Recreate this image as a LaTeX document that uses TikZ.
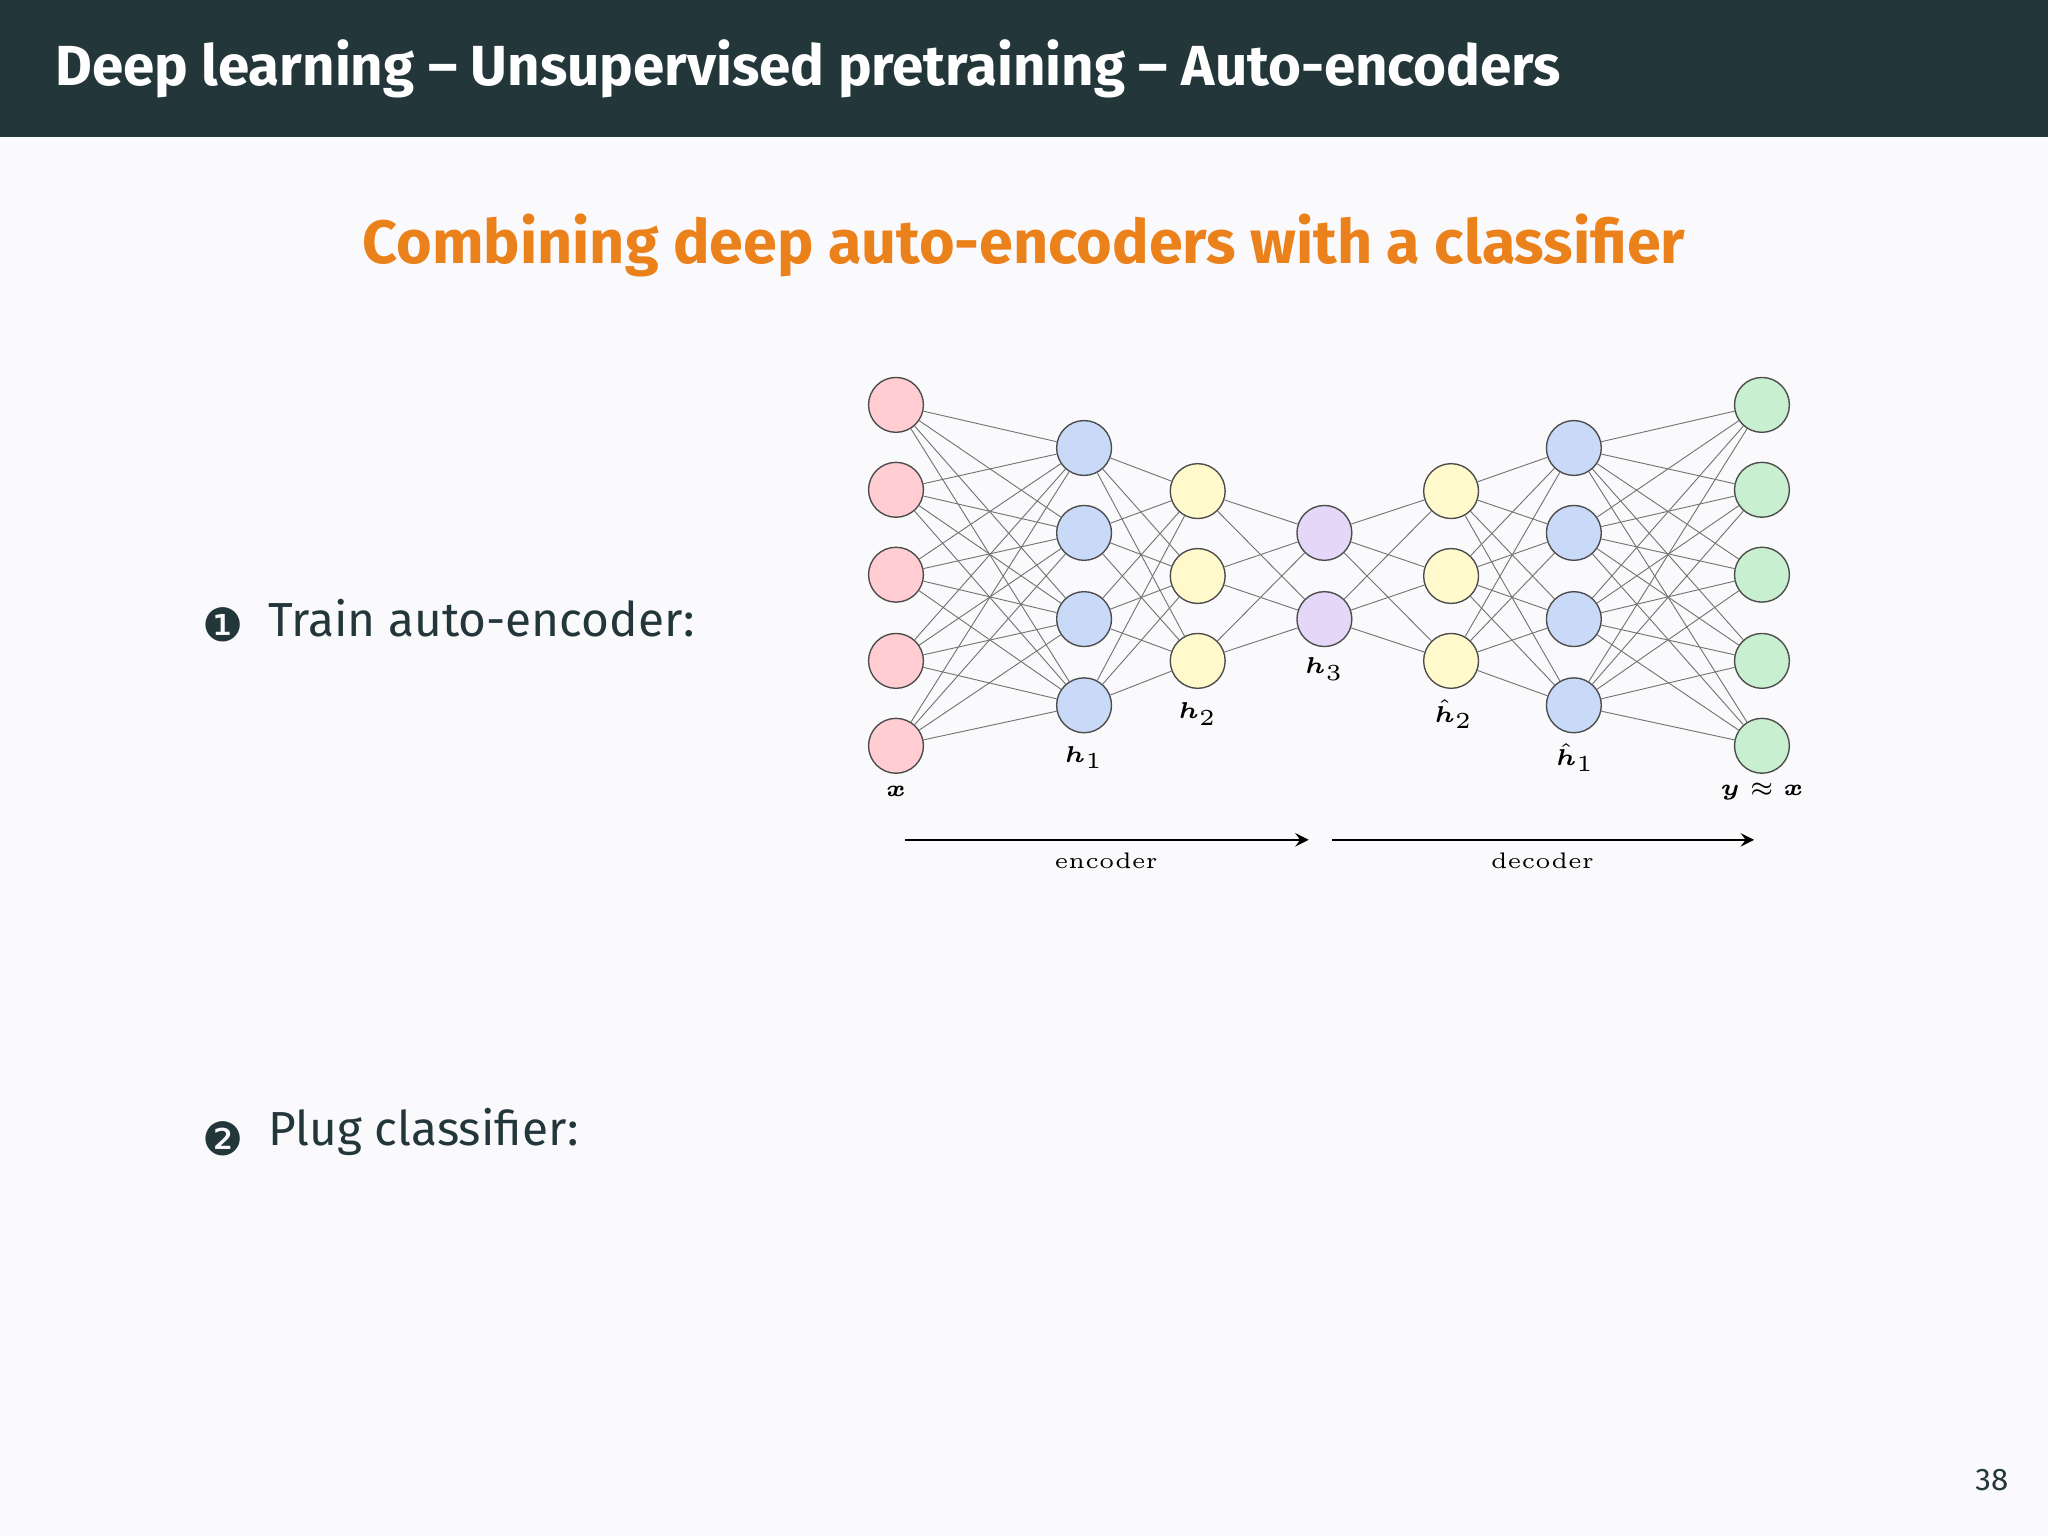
\documentclass[tikz,border=0pt]{standalone}
\usepackage{amsmath}
\usepackage{fontspec}
\setsansfont{Fira Sans}
\newfontfamily\dejavu{DejaVu Sans}
\definecolor{hdr}{HTML}{23373B}
\definecolor{bg}{HTML}{FAFAFC}
\definecolor{org}{HTML}{EB811B}
\definecolor{cred}{HTML}{FFCDD2}
\definecolor{cblue}{HTML}{C9DAF8}
\definecolor{cyel}{HTML}{FFF9CC}
\definecolor{cpur}{HTML}{E4D7F8}
\definecolor{cgrn}{HTML}{C8EFCF}
\tikzset{
  neuron/.style={circle,draw=black!70,line width=0.3pt,minimum size=0.42cm,inner sep=0pt},
  edge/.style={draw=black!55,line width=0.2pt},
  lbl/.style={font=\fontsize{4.9}{6}\selectfont,inner sep=0pt},
}
\begin{document}
\begin{tikzpicture}[x=0.01cm,y=-0.01cm]
\fill[bg] (0,0) rectangle (1568,1176);
\useasboundingbox (0,0) rectangle (1568,1176);
\fill[hdr] (0,0) rectangle (1568,105);
\node[anchor=west,text=white,font=\sffamily\bfseries\fontsize{12.3}{14}\selectfont] (title) at (30,53) {Deep learning -- Unsupervised pretraining -- Auto-encoders};
\node[text=org,font=\sffamily\bfseries\fontsize{13.3}{15}\selectfont] (sub) at (784,188) {Combining deep auto-encoders with a classifier};
\node[text=hdr,font=\dejavu\fontsize{10}{11}\selectfont] (b1) at (171,478) {❶};
\node[anchor=west,text=hdr,font=\sffamily\fontsize{10.4}{12}\selectfont] (t1) at (193,473) {Train auto-encoder:};
\node[text=hdr,font=\dejavu\fontsize{10}{11}\selectfont] (b2) at (171,872) {❷};
\node[anchor=west,text=hdr,font=\sffamily\fontsize{10.4}{12}\selectfont] (t2) at (193,867) {Plug classifier:};
\node[text=hdr,font=\sffamily\fontsize{6.8}{8}\selectfont] (pg) at (1525,1133) {38};
% layers
\foreach \y [count=\i] in {310,375,440,506,571} {\node[neuron,fill=cred] (x\i) at (686,\y) {};}
\foreach \y [count=\i] in {343,408,474,540} {\node[neuron,fill=cblue] (a\i) at (830,\y) {};}
\foreach \y [count=\i] in {376,441,506} {\node[neuron,fill=cyel] (b\i) at (917,\y) {};}
\foreach \y [count=\i] in {408,474} {\node[neuron,fill=cpur] (c\i) at (1014,\y) {};}
\foreach \y [count=\i] in {376,441,506} {\node[neuron,fill=cyel] (d\i) at (1111,\y) {};}
\foreach \y [count=\i] in {343,408,474,540} {\node[neuron,fill=cblue] (e\i) at (1205,\y) {};}
\foreach \y [count=\i] in {310,375,440,506,571} {\node[neuron,fill=cgrn] (o\i) at (1349,\y) {};}
\foreach \i in {1,...,5} \foreach \j in {1,...,4} {\draw[edge] (x\i) -- (a\j);}
\foreach \i in {1,...,4} \foreach \j in {1,...,3} {\draw[edge] (a\i) -- (b\j);}
\foreach \i in {1,...,3} \foreach \j in {1,2} {\draw[edge] (b\i) -- (c\j);}
\foreach \i in {1,2} \foreach \j in {1,...,3} {\draw[edge] (c\i) -- (d\j);}
\foreach \i in {1,...,3} \foreach \j in {1,...,4} {\draw[edge] (d\i) -- (e\j);}
\foreach \i in {1,...,4} \foreach \j in {1,...,5} {\draw[edge] (e\i) -- (o\j);}
% labels
\node[lbl] (lx) at (686,606) {$\boldsymbol{x}$};
\node[lbl] (l1) at (830,580) {$\boldsymbol{h}_1$};
\node[lbl] (l2) at (917,547) {$\boldsymbol{h}_2$};
\node[lbl] (l3) at (1014,512) {$\boldsymbol{h}_3$};
\node[lbl] (l4) at (1113,547) {$\hat{\boldsymbol{h}}_2$};
\node[lbl] (l5) at (1206,580) {$\hat{\boldsymbol{h}}_1$};
\node[lbl] (ly) at (1349,606) {$\boldsymbol{y}\approx\boldsymbol{x}$};
\coordinate (e0) at (693,643); \coordinate (e9) at (1002,643);
\coordinate (f0) at (1020,643); \coordinate (f9) at (1343,643);
\draw[-stealth,line width=0.3pt] (e0) -- (e9);
\draw[-stealth,line width=0.3pt] (f0) -- (f9);
\node[lbl] (enc) at (847,659) {encoder};
\node[lbl] (dec) at (1181,659) {decoder};
\end{tikzpicture}
\end{document}
